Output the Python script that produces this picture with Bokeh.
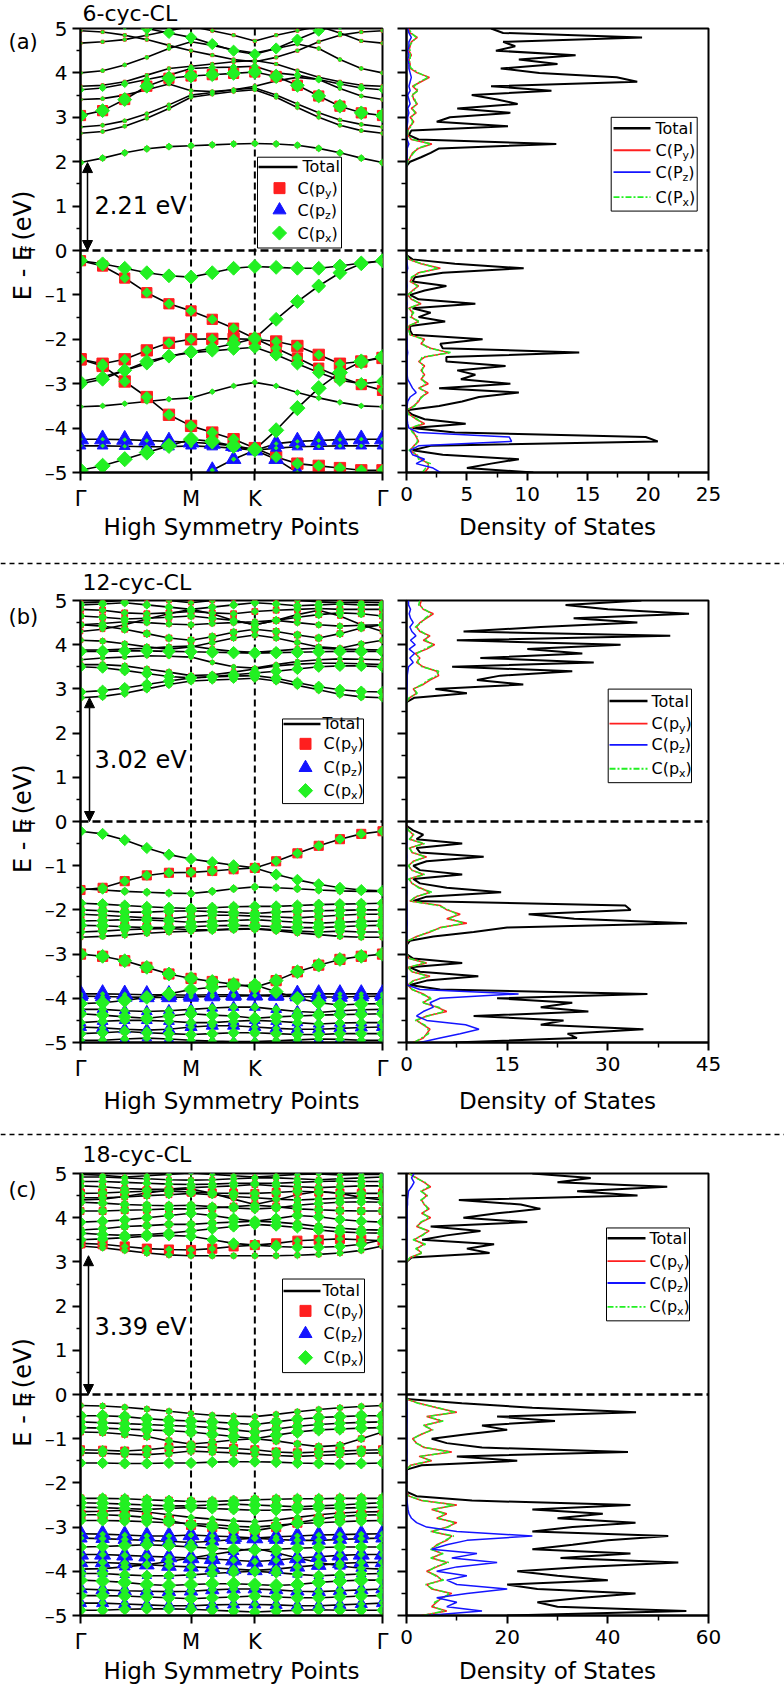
import numpy as np
from bokeh.plotting import figure
from bokeh.layouts import column, row
from bokeh.models import Range1d, FixedTicker, Span, Label, Arrow, NormalHead, Title
from bokeh.embed import file_html
from bokeh.resources import INLINE

FONT = "DejaVu Sans"
RED = "#ff1f1f"
BLUE = "#1414ff"
GREEN = "#22f022"

# ---------------- k-path Γ–M–K–Γ ----------------
K_PATH = [0.0, 0.2, 0.4, 0.6, 0.8, 1.0, 1.192, 1.385, 1.577,
          1.770, 1.962, 2.155, 2.347, 2.540, 2.732]
K_TICKS = [0.0, 1.0, 1.577, 2.732]
K_LABELS = ["Γ", "M", "K", "Γ"]
E_TICKS = [-5, -4, -3, -2, -1, 0, 1, 2, 3, 4, 5]
E_MINOR = [-4.5, -3.5, -2.5, -1.5, -0.5, 0.5, 1.5, 2.5, 3.5, 4.5]

PANEL_TAGS = ["(a)", "(b)", "(c)"]
PANEL_NAMES = ["6-cyc-CL", "12-cyc-CL", "18-cyc-CL"]
GAPS = [2.21, 3.02, 3.39]

# ---------------- (a) 6-cyc-CL band energies (eV) ----------------
BANDS_A = [
    [1.98, 2.08, 2.20, 2.29, 2.34, 2.36, 2.38, 2.40, 2.41, 2.40, 2.37, 2.30, 2.20, 2.08, 1.98],
    [2.64, 2.68, 2.80, 2.98, 3.20, 3.45, 3.52, 3.58, 3.62, 3.45, 3.22, 3.00, 2.82, 2.70, 2.64],
    [2.78, 2.82, 2.92, 3.08, 3.28, 3.50, 3.56, 3.62, 3.66, 3.50, 3.30, 3.10, 2.94, 2.84, 2.78],
    [3.04, 3.15, 3.40, 3.70, 3.88, 3.93, 3.96, 3.99, 4.02, 3.92, 3.72, 3.48, 3.25, 3.10, 3.04],
    [3.40, 3.42, 3.50, 3.62, 3.75, 3.60, 3.58, 3.62, 3.70, 3.82, 3.90, 3.85, 3.65, 3.48, 3.40],
    [3.62, 3.66, 3.75, 3.85, 3.95, 4.10, 4.12, 4.13, 4.15, 4.00, 3.95, 3.85, 3.75, 3.66, 3.62],
    [3.70, 3.72, 3.80, 3.95, 4.10, 4.15, 4.20, 4.25, 4.28, 4.20, 4.05, 3.90, 3.80, 3.72, 3.70],
    [4.00, 4.05, 4.18, 4.35, 4.55, 4.70, 4.62, 4.52, 4.45, 4.55, 4.65, 4.55, 4.30, 4.10, 4.00],
    [4.67, 4.70, 4.75, 4.85, 4.95, 5.05, 4.95, 4.85, 4.72, 4.85, 4.95, 5.05, 4.90, 4.72, 4.67],
    [5.30, 5.20, 5.10, 5.00, 4.90, 4.80, 4.65, 4.50, 4.42, 4.55, 4.75, 4.95, 5.10, 5.20, 5.30],
    [4.95, 4.92, 4.85, 4.75, 4.62, 4.50, 4.40, 4.30, 4.25, 4.35, 4.50, 4.70, 4.85, 4.92, 4.95],
    [-0.23, -0.30, -0.40, -0.50, -0.57, -0.60, -0.50, -0.40, -0.36, -0.38, -0.40, -0.40, -0.35, -0.28, -0.23],
    [-0.23, -0.35, -0.62, -0.95, -1.20, -1.36, -1.55, -1.75, -1.98, -2.20, -2.42, -2.65, -2.85, -3.02, -3.15],
    [-3.00, -2.90, -2.70, -2.50, -2.38, -2.28, -2.20, -2.10, -1.98, -1.55, -1.15, -0.80, -0.50, -0.30, -0.23],
    [-2.45, -2.55, -2.45, -2.25, -2.08, -2.00, -1.99, -1.99, -2.00, -2.05, -2.15, -2.35, -2.55, -2.50, -2.42],
    [-2.95, -2.85, -2.70, -2.55, -2.38, -2.30, -2.26, -2.22, -2.18, -2.35, -2.55, -2.75, -2.92, -3.00, -2.95],
    [-2.45, -2.60, -2.95, -3.30, -3.70, -3.95, -4.10, -4.25, -4.45, -4.65, -4.80, -4.85, -4.90, -4.95, -4.95],
    [-3.52, -3.50, -3.45, -3.40, -3.35, -3.32, -3.18, -3.05, -2.97, -3.05, -3.20, -3.32, -3.42, -3.50, -3.52],
    [-4.95, -4.85, -4.70, -4.55, -4.40, -4.25, -4.30, -4.40, -4.48, -4.05, -3.55, -3.10, -2.75, -2.50, -2.40],
    [-4.25, -4.25, -4.26, -4.28, -4.30, -4.32, -4.35, -4.40, -4.50, -4.35, -4.30, -4.28, -4.26, -4.25, -4.25],
    [-5.60, -5.60, -5.50, -5.40, -5.30, -5.20, -4.95, -4.70, -4.50, -4.70, -5.00, -5.20, -5.40, -5.50, -5.60],
    [-4.40, -4.40, -4.41, -4.42, -4.42, -4.40, -4.42, -4.45, -4.50, -4.45, -4.42, -4.41, -4.40, -4.40, -4.40],
]
W_PY_A = [0.15, 0.05, 0.05, 0.7, 0.05, 0.1, 0.05, 0.05, 0.05, 0.1, 0.05,
          0.1, 0.7, 0.2, 0.8, 0.3, 0.8, 0.05, 0.3, 0.0, 0.0, 0.0]
W_PZ_A = [0, 0, 0, 0, 0, 0, 0, 0, 0, 0, 0,
          0, 0, 0, 0, 0, 0, 0, 0, 1.0, 0.9, 0.6]
W_PX_A = [0.3, 0.1, 0.1, 0.8, 0.1, 0.3, 0.05, 0.1, 0.05, 0.6, 0.05,
          0.8, 0.5, 0.8, 0.5, 0.7, 0.6, 0.2, 0.9, 0.05, 0.1, 0.05]

# ---------------- (b) 12-cyc-CL band energies (eV) ----------------
BANDS_B = [
    [2.80, 2.83, 2.90, 3.00, 3.10, 3.18, 3.20, 3.22, 3.24, 3.18, 3.08, 2.98, 2.88, 2.82, 2.80],
    [2.93, 2.96, 3.02, 3.10, 3.18, 3.25, 3.27, 3.29, 3.30, 3.24, 3.14, 3.05, 2.98, 2.94, 2.93],
    [3.50, 3.48, 3.42, 3.35, 3.28, 3.25, 3.28, 3.32, 3.36, 3.40, 3.45, 3.50, 3.52, 3.52, 3.50],
    [3.55, 3.55, 3.52, 3.45, 3.38, 3.30, 3.32, 3.38, 3.45, 3.52, 3.56, 3.58, 3.58, 3.57, 3.55],
    [3.66, 3.70, 3.72, 3.75, 3.74, 3.72, 3.60, 3.50, 3.47, 3.55, 3.62, 3.66, 3.68, 3.67, 3.66],
    [3.85, 3.85, 3.86, 3.86, 3.85, 3.84, 3.83, 3.82, 3.81, 3.82, 3.83, 3.84, 3.85, 3.85, 3.85],
    [3.88, 3.88, 3.90, 3.92, 3.95, 3.97, 3.90, 3.85, 3.83, 3.86, 3.90, 3.92, 3.90, 3.89, 3.88],
    [4.10, 4.08, 4.02, 3.95, 3.90, 3.95, 4.05, 4.15, 4.22, 4.15, 4.05, 3.95, 3.92, 4.02, 4.10],
    [4.45, 4.42, 4.35, 4.25, 4.15, 4.10, 4.18, 4.28, 4.35, 4.30, 4.22, 4.15, 4.25, 4.38, 4.45],
    [4.45, 4.48, 4.52, 4.50, 4.47, 4.45, 4.48, 4.50, 4.52, 4.55, 4.50, 4.45, 4.42, 4.44, 4.45],
    [4.65, 4.62, 4.58, 4.60, 4.62, 4.65, 4.60, 4.55, 4.45, 4.55, 4.62, 4.68, 4.72, 4.70, 4.65],
    [4.80, 4.78, 4.72, 4.70, 4.72, 4.75, 4.72, 4.70, 4.75, 4.78, 4.80, 4.82, 4.80, 4.80, 4.80],
    [4.90, 4.92, 4.95, 4.90, 4.85, 4.80, 4.85, 4.90, 4.95, 4.92, 4.88, 4.90, 4.92, 4.90, 4.90],
    [4.95, 4.97, 5.00, 5.05, 5.00, 4.95, 5.00, 5.05, 5.10, 5.05, 5.00, 4.97, 4.95, 4.96, 4.95],
    [4.30, 4.35, 4.45, 4.58, 4.70, 4.80, 4.70, 4.55, 4.45, 4.55, 4.68, 4.78, 4.65, 4.45, 4.30],
    [-0.22, -0.28, -0.42, -0.60, -0.75, -0.85, -0.92, -0.99, -1.05, -1.20, -1.32, -1.42, -1.50, -1.55, -1.57],
    [-1.55, -1.50, -1.35, -1.22, -1.16, -1.15, -1.12, -1.08, -1.05, -0.90, -0.72, -0.55, -0.40, -0.28, -0.22],
    [-1.52, -1.55, -1.58, -1.60, -1.62, -1.63, -1.58, -1.52, -1.48, -1.50, -1.52, -1.55, -1.57, -1.58, -1.58],
    [-1.85, -1.87, -1.90, -1.93, -1.95, -1.97, -1.95, -1.93, -1.92, -1.92, -1.90, -1.88, -1.87, -1.86, -1.85],
    [-2.00, -2.02, -2.05, -2.05, -2.03, -2.02, -2.04, -2.06, -2.08, -2.05, -2.03, -2.02, -2.01, -2.00, -2.00],
    [-2.10, -2.12, -2.15, -2.18, -2.20, -2.15, -2.12, -2.12, -2.14, -2.16, -2.18, -2.15, -2.12, -2.10, -2.10],
    [-2.25, -2.24, -2.22, -2.23, -2.25, -2.28, -2.26, -2.24, -2.22, -2.25, -2.28, -2.30, -2.28, -2.26, -2.25],
    [-2.35, -2.36, -2.38, -2.40, -2.40, -2.38, -2.36, -2.35, -2.36, -2.38, -2.40, -2.40, -2.38, -2.36, -2.35],
    [-2.50, -2.48, -2.45, -2.43, -2.42, -2.45, -2.45, -2.43, -2.42, -2.45, -2.48, -2.50, -2.48, -2.50, -2.50],
    [-2.62, -2.60, -2.57, -2.53, -2.50, -2.48, -2.46, -2.44, -2.43, -2.47, -2.52, -2.56, -2.60, -2.62, -2.62],
    [-3.00, -3.05, -3.15, -3.30, -3.45, -3.55, -3.62, -3.68, -3.75, -3.60, -3.40, -3.25, -3.12, -3.05, -3.00],
    [-3.90, -3.90, -3.91, -3.92, -3.92, -3.93, -3.92, -3.92, -3.93, -3.92, -3.91, -3.90, -3.90, -3.90, -3.90],
    [-3.95, -3.96, -3.97, -3.98, -3.98, -3.97, -3.96, -3.95, -3.94, -3.95, -3.96, -3.97, -3.97, -3.96, -3.95],
    [-4.12, -4.10, -4.05, -3.98, -3.90, -3.80, -3.75, -3.72, -3.70, -3.85, -4.00, -4.10, -4.15, -4.13, -4.12],
    [-4.25, -4.25, -4.28, -4.30, -4.28, -4.25, -4.22, -4.20, -4.20, -4.25, -4.30, -4.32, -4.28, -4.26, -4.25],
    [-4.35, -4.38, -4.42, -4.45, -4.40, -4.35, -4.38, -4.40, -4.45, -4.42, -4.40, -4.38, -4.37, -4.36, -4.35],
    [-4.55, -4.52, -4.50, -4.50, -4.52, -4.55, -4.55, -4.52, -4.50, -4.52, -4.55, -4.58, -4.56, -4.55, -4.55],
    [-4.65, -4.67, -4.70, -4.72, -4.70, -4.65, -4.62, -4.62, -4.65, -4.68, -4.70, -4.70, -4.68, -4.66, -4.65],
    [-4.80, -4.78, -4.75, -4.78, -4.80, -4.82, -4.80, -4.78, -4.78, -4.80, -4.82, -4.82, -4.80, -4.80, -4.80],
    [-4.95, -4.95, -4.92, -4.90, -4.92, -4.95, -4.97, -4.98, -4.98, -4.96, -4.94, -4.92, -4.93, -4.95, -4.95],
]
W_PY_B = [0.2, 0.3, 0.3, 0.2, 0.1, 0.3, 0.2, 0.2, 0.3, 0.2, 0.3, 0.3, 0.2, 0.2, 0.2,
          0.2, 0.6, 0.2, 0.3, 0.4, 0.4, 0.4, 0.5, 0.3, 0.2,
          0.7, 0.0, 0.0, 0.3, 0.1, 0.3, 0.1, 0.1, 0.3, 0.2]
W_PZ_B = [0, 0, 0, 0, 0, 0, 0, 0, 0, 0, 0, 0, 0, 0, 0,
          0, 0, 0, 0, 0, 0, 0, 0, 0, 0,
          0, 1.0, 0.9, 0.1, 0.6, 0.2, 0.6, 0.7, 0.3, 0.5]
W_PX_B = [0.4, 0.6, 0.6, 0.3, 0.2, 0.7, 0.3, 0.3, 0.4, 0.3, 0.4, 0.3, 0.4, 0.2, 0.2,
          0.6, 0.5, 0.4, 0.6, 0.6, 0.5, 0.6, 0.7, 0.5, 0.3,
          0.8, 0.1, 0.1, 0.8, 0.4, 0.7, 0.5, 0.3, 0.6, 0.4]

# ---------------- (c) 18-cyc-CL band energies (eV) ----------------
BANDS_C = [
    [3.36, 3.32, 3.26, 3.20, 3.16, 3.14, 3.14, 3.14, 3.14, 3.14, 3.15, 3.17, 3.20, 3.26, 3.36],
    [3.42, 3.40, 3.35, 3.30, 3.28, 3.27, 3.30, 3.35, 3.38, 3.42, 3.48, 3.50, 3.52, 3.50, 3.48],
    [3.50, 3.52, 3.55, 3.58, 3.60, 3.58, 3.50, 3.42, 3.38, 3.35, 3.33, 3.33, 3.35, 3.40, 3.50],
    [3.65, 3.62, 3.60, 3.62, 3.65, 3.70, 3.75, 3.80, 3.85, 3.82, 3.78, 3.72, 3.68, 3.66, 3.65],
    [3.72, 3.75, 3.80, 3.82, 3.85, 3.85, 3.88, 3.90, 3.92, 3.90, 3.86, 3.80, 3.76, 3.73, 3.72],
    [3.90, 3.92, 3.95, 4.00, 4.05, 4.10, 4.05, 3.98, 3.92, 3.98, 4.05, 4.02, 3.96, 3.92, 3.90],
    [4.15, 4.15, 4.17, 4.18, 4.20, 4.20, 4.22, 4.25, 4.28, 4.25, 4.20, 4.18, 4.16, 4.15, 4.15],
    [4.35, 4.33, 4.30, 4.28, 4.27, 4.28, 4.25, 4.22, 4.20, 4.22, 4.28, 4.32, 4.35, 4.36, 4.35],
    [4.45, 4.45, 4.47, 4.50, 4.52, 4.55, 4.52, 4.48, 4.45, 4.42, 4.40, 4.42, 4.44, 4.45, 4.45],
    [4.55, 4.56, 4.58, 4.60, 4.60, 4.58, 4.56, 4.55, 4.55, 4.57, 4.60, 4.58, 4.56, 4.55, 4.55],
    [4.72, 4.70, 4.66, 4.64, 4.65, 4.68, 4.70, 4.72, 4.75, 4.72, 4.70, 4.68, 4.70, 4.72, 4.72],
    [4.82, 4.82, 4.80, 4.78, 4.76, 4.75, 4.76, 4.78, 4.78, 4.78, 4.80, 4.82, 4.83, 4.82, 4.82],
    [4.92, 4.92, 4.90, 4.88, 4.86, 4.85, 4.86, 4.88, 4.90, 4.90, 4.88, 4.86, 4.88, 4.90, 4.92],
    [4.40, 4.42, 4.48, 4.56, 4.62, 4.65, 4.55, 4.42, 4.30, 4.40, 4.52, 4.60, 4.55, 4.46, 4.40],
    [4.98, 4.96, 4.92, 4.95, 4.98, 5.02, 4.98, 4.95, 4.92, 4.95, 4.98, 4.99, 4.97, 4.98, 4.98],
    [-0.25, -0.26, -0.29, -0.33, -0.38, -0.43, -0.47, -0.49, -0.50, -0.45, -0.39, -0.34, -0.30, -0.27, -0.25],
    [-0.48, -0.48, -0.50, -0.55, -0.58, -0.60, -0.62, -0.65, -0.68, -0.62, -0.56, -0.52, -0.50, -0.48, -0.48],
    [-0.62, -0.64, -0.66, -0.68, -0.70, -0.72, -0.75, -0.80, -0.85, -0.78, -0.72, -0.68, -0.65, -0.63, -0.62],
    [-0.75, -0.76, -0.78, -0.80, -0.82, -0.85, -0.90, -0.95, -1.00, -0.92, -0.85, -0.80, -0.78, -0.76, -0.75],
    [-0.85, -0.86, -0.90, -0.95, -1.05, -1.12, -1.08, -1.03, -1.00, -1.05, -1.12, -1.18, -1.15, -1.00, -0.85],
    [-1.25, -1.26, -1.28, -1.25, -1.20, -1.18, -1.20, -1.22, -1.25, -1.30, -1.32, -1.30, -1.28, -1.26, -1.25],
    [-1.32, -1.33, -1.35, -1.36, -1.33, -1.28, -1.30, -1.32, -1.35, -1.38, -1.40, -1.38, -1.36, -1.33, -1.32],
    [-1.55, -1.55, -1.56, -1.56, -1.55, -1.55, -1.53, -1.52, -1.52, -1.53, -1.55, -1.56, -1.57, -1.56, -1.55],
    [-2.35, -2.35, -2.36, -2.38, -2.40, -2.42, -2.42, -2.40, -2.38, -2.37, -2.36, -2.36, -2.35, -2.35, -2.35],
    [-2.45, -2.46, -2.48, -2.50, -2.52, -2.52, -2.50, -2.48, -2.50, -2.52, -2.54, -2.52, -2.50, -2.47, -2.45],
    [-2.55, -2.56, -2.58, -2.60, -2.58, -2.56, -2.58, -2.60, -2.62, -2.62, -2.60, -2.58, -2.57, -2.56, -2.55],
    [-2.72, -2.72, -2.74, -2.78, -2.85, -2.95, -3.00, -3.05, -3.08, -3.00, -2.90, -2.82, -2.76, -2.73, -2.72],
    [-2.85, -2.85, -2.86, -2.88, -2.90, -2.92, -2.94, -2.98, -3.00, -2.96, -2.92, -2.90, -2.88, -2.86, -2.85],
    [-3.15, -3.16, -3.18, -3.20, -3.20, -3.18, -3.20, -3.22, -3.25, -3.22, -3.20, -3.18, -3.17, -3.16, -3.15],
    [-3.25, -3.26, -3.28, -3.30, -3.32, -3.35, -3.32, -3.28, -3.25, -3.28, -3.30, -3.30, -3.28, -3.26, -3.25],
    [-3.45, -3.44, -3.42, -3.40, -3.42, -3.45, -3.48, -3.50, -3.52, -3.50, -3.48, -3.46, -3.45, -3.45, -3.45],
    [-3.62, -3.62, -3.64, -3.66, -3.68, -3.70, -3.72, -3.75, -3.78, -3.75, -3.70, -3.67, -3.64, -3.62, -3.62],
    [-3.80, -3.80, -3.82, -3.85, -3.88, -3.90, -3.92, -3.95, -3.98, -3.95, -3.90, -3.86, -3.82, -3.80, -3.80],
    [-4.05, -4.05, -4.08, -4.10, -4.10, -4.08, -4.05, -4.02, -4.00, -4.03, -4.07, -4.10, -4.08, -4.06, -4.05],
    [-4.20, -4.22, -4.25, -4.30, -4.32, -4.30, -4.28, -4.28, -4.30, -4.32, -4.30, -4.25, -4.22, -4.20, -4.20],
    [-4.40, -4.42, -4.44, -4.45, -4.46, -4.45, -4.42, -4.40, -4.40, -4.42, -4.45, -4.46, -4.44, -4.42, -4.40],
    [-4.55, -4.55, -4.56, -4.58, -4.60, -4.62, -4.60, -4.58, -4.56, -4.58, -4.60, -4.60, -4.58, -4.56, -4.55],
    [-4.72, -4.72, -4.74, -4.76, -4.78, -4.78, -4.76, -4.75, -4.75, -4.76, -4.78, -4.78, -4.76, -4.74, -4.72],
    [-4.88, -4.88, -4.86, -4.85, -4.85, -4.86, -4.88, -4.90, -4.92, -4.90, -4.88, -4.87, -4.88, -4.88, -4.88],
    [-2.65, -2.64, -2.62, -2.66, -2.72, -2.78, -2.82, -2.86, -2.88, -2.84, -2.78, -2.72, -2.68, -2.66, -2.65],
    [-3.95, -3.94, -3.90, -3.85, -3.78, -3.70, -3.62, -3.55, -3.48, -3.58, -3.70, -3.80, -3.88, -3.93, -3.95],
]
W_PY_C = [0.2, 0.6, 0.2, 0.3, 0.3, 0.3, 0.4, 0.3, 0.3, 0.5, 0.3, 0.2, 0.2, 0.1, 0.1,
          0.2, 0.4, 0.4, 0.4, 0.3, 0.5, 0.3, 0.3, 0.4, 0.4, 0.3, 0.6, 0.3,
          0.1, 0.1, 0.3, 0.1, 0.1, 0.3, 0.3, 0.1, 0.3, 0.1, 0.3, 0.1, 0.2]
W_PZ_C = [0, 0, 0, 0, 0, 0, 0, 0, 0, 0, 0, 0.05, 0.1, 0, 0.05,
          0, 0, 0, 0, 0, 0, 0, 0, 0, 0, 0, 0, 0.1,
          1.0, 0.8, 0.2, 1.0, 0.9, 0.5, 0.3, 0.8, 0.3, 0.7, 0.3, 0.0, 0.6]
W_PX_C = [0.3, 0.3, 0.6, 0.6, 0.5, 0.6, 0.5, 0.5, 0.4, 0.5, 0.4, 0.4, 0.3, 0.1, 0.2,
          0.3, 0.7, 0.6, 0.7, 0.4, 0.5, 0.4, 0.6, 0.6, 0.7, 0.6, 0.7, 0.6,
          0.2, 0.3, 0.7, 0.3, 0.4, 0.6, 0.8, 0.4, 0.7, 0.3, 0.6, 0.3, 0.4]

# ---------------- density of states (states/eV) ----------------
E_VB = np.round(np.arange(-5.0, -0.05, 0.1), 2)          # -5.0 … -0.1
E_CB_A = np.round(np.arange(1.9, 5.05, 0.1), 2)          # 1.9 … 5.0
E_CB_B = np.round(np.arange(2.7, 5.05, 0.1), 2)          # 2.7 … 5.0
E_CB_C = np.round(np.arange(3.0, 5.05, 0.1), 2)          # 3.0 … 5.0

TOT_VB_A = [10.5, 5.0, 7.0, 9.3, 3.0, 0.5, 2.0, 20.8, 19.8, 4.0,
            0.5, 4.9, 1.5, 0.5, 0.0, 2.7, 4.6, 6.0, 9.3, 2.7,
            8.6, 4.5, 5.7, 4.2, 8.2, 3.3, 3.3, 14.3, 3.0, 2.8,
            6.3, 0.5, 0.3, 0.3, 3.2, 1.0, 2.0, 0.5, 5.7, 1.0,
            0.3, 1.5, 3.3, 0.5, 0.7, 3.0, 9.7, 4.0, 0.5, 0.0]
PY_VB_A = [1.5, 1.8, 1.8, 1.2, 0.8, 0.3, 0.6, 1.0, 0.8, 0.6,
           0.3, 1.5, 0.8, 0.3, 0.0, 0.6, 1.0, 1.2, 1.8, 1.0,
           1.8, 1.2, 1.5, 1.2, 1.5, 1.0, 1.5, 3.5, 2.0, 1.2,
           1.5, 0.3, 0.2, 0.2, 1.0, 0.4, 0.5, 0.2, 1.2, 0.4,
           0.1, 0.5, 1.0, 0.3, 0.5, 1.0, 2.8, 1.2, 0.2, 0.0]
PX_VB_A = [1.3, 1.6, 2.0, 1.0, 0.9, 0.2, 0.7, 0.9, 0.9, 0.5,
           0.3, 1.3, 0.9, 0.2, 0.0, 0.7, 0.9, 1.3, 1.6, 1.1,
           1.6, 1.3, 1.4, 1.3, 1.4, 1.1, 1.3, 3.7, 1.8, 1.3,
           1.4, 0.3, 0.2, 0.1, 1.1, 0.3, 0.6, 0.2, 1.1, 0.5,
           0.1, 0.6, 0.9, 0.4, 0.4, 1.1, 2.6, 1.3, 0.2, 0.0]
PZ_VB_A = [2.8, 2.2, 0.8, 1.5, 0.5, 0.3, 1.0, 8.7, 8.5, 1.0,
           0.2, 0.1, 0.05, 0.05, 0.0, 0.05, 0.1, 0.3, 0.8, 0.5,
           0.3, 0.1, 0.05, 0.05, 0.05, 0.05, 0.05, 0.1, 0.05, 0.05,
           0.05, 0.0, 0.0, 0.0, 0.05, 0.0, 0.0, 0.0, 0.05, 0.0,
           0.0, 0.0, 0.05, 0.0, 0.0, 0.0, 0.1, 0.05, 0.0, 0.0]
TOT_CB_A = [0.0, 0.3, 1.2, 2.0, 2.7, 12.4, 1.0, 0.2, 0.4, 8.4,
            2.5, 3.6, 8.6, 4.2, 9.2, 7.5, 5.4, 12.0, 7.0, 19.1,
            17.4, 11.0, 7.8, 12.5, 9.3, 14.0, 7.4, 9.0, 8.0, 19.5,
            8.0, 7.0]
PY_CB_A = [0.0, 0.1, 0.3, 0.5, 1.0, 2.1, 0.4, 0.1, 0.1, 0.3,
           0.6, 0.3, 0.8, 0.4, 0.9, 0.6, 0.5, 0.9, 0.5, 1.2,
           1.9, 0.9, 0.3, 0.3, 0.2, 0.4, 0.2, 0.3, 0.4, 0.9,
           0.3, 0.2]
PX_CB_A = [0.0, 0.1, 0.3, 0.6, 0.9, 2.0, 0.5, 0.1, 0.1, 0.4,
           0.5, 0.4, 0.7, 0.5, 0.8, 0.7, 0.4, 1.0, 0.6, 1.1,
           1.8, 1.0, 0.4, 0.2, 0.3, 0.3, 0.3, 0.2, 0.5, 0.8,
           0.4, 0.2]
PZ_CB_A = [0.0, 0.0, 0.05, 0.05, 0.05, 0.2, 0.05, 0.0, 0.0, 0.05,
           0.1, 0.1, 0.2, 0.1, 0.3, 0.2, 0.1, 0.3, 0.2, 0.3,
           0.4, 0.3, 0.2, 0.2, 0.1, 0.2, 0.1, 0.2, 0.2, 0.4,
           0.2, 0.1]

TOT_VB_B = [7.0, 25.4, 24.0, 35.3, 20.0, 23.4, 10.0, 27.1, 20.0, 24.7,
            13.5, 35.9, 5.0, 0.5, 3.0, 10.7, 2.0, 0.5, 8.3, 1.0,
            0.0, 0.0, 0.0, 0.5, 4.0, 10.0, 15.0, 41.8, 25.0, 18.2,
            33.4, 32.6, 1.0, 3.0, 14.1, 6.0, 2.0, 1.0, 8.3, 2.0,
            1.0, 3.0, 11.5, 2.0, 1.5, 8.3, 1.5, 2.5, 1.0, 0.0]
PY_VB_B = [1.0, 2.5, 3.0, 3.5, 2.5, 1.5, 3.0, 6.0, 4.5, 2.5,
           3.5, 2.5, 0.8, 0.2, 1.0, 3.5, 0.8, 0.2, 3.0, 0.4,
           0.0, 0.0, 0.0, 0.2, 1.5, 3.5, 5.0, 9.0, 6.0, 8.0,
           6.0, 5.0, 0.5, 1.5, 3.5, 2.0, 0.8, 0.4, 2.5, 0.8,
           0.3, 1.0, 3.0, 0.8, 0.5, 2.5, 0.5, 1.0, 0.3, 0.0]
PX_VB_B = [1.2, 2.2, 3.3, 3.2, 2.7, 1.3, 3.2, 5.6, 4.8, 2.3,
           3.8, 2.2, 0.9, 0.2, 1.1, 3.2, 0.9, 0.2, 2.8, 0.5,
           0.0, 0.0, 0.0, 0.2, 1.7, 3.2, 5.3, 8.5, 6.4, 7.6,
           6.3, 4.7, 0.6, 1.3, 3.8, 1.8, 0.9, 0.3, 2.7, 0.7,
           0.3, 1.1, 2.8, 0.9, 0.4, 2.7, 0.4, 1.1, 0.3, 0.0]
PZ_VB_B = [2.0, 5.0, 8.0, 10.8, 8.8, 3.0, 1.5, 2.5, 4.0, 3.5,
           5.0, 16.7, 2.0, 0.1, 0.05, 0.05, 0.0, 0.0, 0.05, 0.0,
           0.0, 0.0, 0.0, 0.0, 0.05, 0.05, 0.05, 0.1, 0.05, 0.05,
           0.05, 0.05, 0.0, 0.0, 0.05, 0.0, 0.0, 0.0, 0.05, 0.0,
           0.0, 0.0, 0.05, 0.0, 0.0, 0.05, 0.0, 0.0, 0.0, 0.0]
TOT_CB_B = [0.0, 1.2, 9.0, 4.3, 17.4, 10.5, 14.0, 24.7, 6.8, 27.9,
            11.0, 26.2, 18.0, 31.9, 7.5, 39.3, 8.5, 20.0, 34.4, 24.9,
            42.1, 30.0, 23.7, 35.0]
PY_CB_B = [0.0, 0.5, 1.5, 1.0, 2.5, 3.5, 4.8, 4.5, 2.5, 1.5,
           2.0, 1.3, 3.0, 4.2, 2.5, 3.5, 2.0, 1.5, 2.0, 3.0,
           4.0, 2.5, 2.0, 2.2]
PX_CB_B = [0.0, 0.4, 1.6, 1.1, 2.3, 3.2, 4.5, 4.8, 2.3, 1.7,
           1.8, 1.5, 2.7, 4.0, 2.8, 3.2, 2.2, 1.3, 2.2, 2.8,
           3.7, 2.7, 1.8, 2.0]
PZ_CB_B = [0.0, 0.0, 0.05, 0.05, 0.1, 0.1, 0.1, 0.2, 0.3, 1.0,
           0.5, 1.2, 0.4, 1.3, 0.6, 1.4, 0.8, 0.5, 1.0, 0.6,
           0.4, 0.6, 0.3, 0.3]

TOT_VB_C = [20.0, 55.6, 30.0, 26.0, 35.0, 45.5, 26.0, 20.0, 40.0, 30.0,
            22.0, 35.0, 54.0, 30.6, 44.5, 25.0, 33.0, 40.0, 52.0, 25.0,
            33.0, 45.5, 30.0, 39.0, 25.0, 44.5, 13.0, 2.0, 0.0, 0.0,
            0.0, 0.0, 0.0, 0.0, 3.0, 22.0, 10.0, 44.0, 15.0, 8.0,
            5.0, 12.0, 20.0, 15.0, 29.5, 18.0, 45.6, 25.0, 11.0, 0.0]
PY_VB_C = [3.0, 8.0, 5.0, 6.0, 7.0, 9.0, 5.0, 4.0, 7.0, 6.0,
           4.0, 6.0, 8.0, 5.0, 7.0, 5.0, 6.0, 8.0, 9.0, 5.0,
           8.0, 10.0, 6.0, 8.0, 5.0, 10.0, 3.0, 0.5, 0.0, 0.0,
           0.0, 0.0, 0.0, 0.0, 0.8, 5.0, 2.5, 9.0, 3.5, 2.0,
           1.2, 3.0, 5.0, 3.5, 7.0, 4.0, 10.0, 6.0, 2.5, 0.0]
PX_VB_C = [3.3, 7.5, 5.4, 5.6, 7.3, 8.6, 5.3, 3.8, 7.4, 5.7,
           4.3, 5.7, 8.4, 4.8, 7.3, 4.7, 6.3, 7.6, 9.4, 4.8,
           8.3, 9.6, 6.3, 7.6, 5.3, 9.5, 3.2, 0.5, 0.0, 0.0,
           0.0, 0.0, 0.0, 0.0, 0.9, 4.7, 2.7, 8.6, 3.7, 1.9,
           1.3, 2.8, 5.3, 3.3, 7.3, 4.2, 9.6, 6.3, 2.3, 0.0]
PZ_VB_C = [4.0, 15.0, 8.0, 10.0, 6.0, 12.0, 20.0, 10.0, 8.0, 12.0,
           6.0, 10.0, 18.0, 9.0, 14.0, 5.0, 8.0, 12.0, 25.0, 10.0,
           4.0, 2.0, 1.0, 0.5, 0.3, 0.2, 0.1, 0.0, 0.0, 0.0,
           0.0, 0.0, 0.0, 0.0, 0.0, 0.1, 0.05, 0.1, 0.05, 0.05,
           0.05, 0.05, 0.05, 0.05, 0.1, 0.05, 0.1, 0.05, 0.05, 0.0]
TOT_CB_C = [0.0, 1.0, 16.5, 12.0, 17.4, 3.1, 8.0, 14.7, 4.8, 24.0,
            11.3, 18.0, 26.6, 22.7, 10.4, 45.9, 33.9, 51.8, 30.0, 36.6, 25.0]
PY_CB_C = [0.0, 0.8, 3.0, 2.0, 3.5, 1.5, 3.0, 4.5, 2.0, 3.0,
           4.8, 3.0, 4.5, 3.5, 3.0, 4.0, 3.0, 4.8, 3.5, 2.0, 0.5]
PX_CB_C = [0.0, 0.7, 3.2, 1.8, 3.8, 1.3, 3.2, 4.2, 2.2, 2.8,
           4.5, 3.2, 4.2, 3.7, 2.8, 4.2, 2.8, 4.5, 3.7, 1.8, 0.6]
PZ_CB_C = [0.0, 0.0, 0.05, 0.05, 0.05, 0.05, 0.05, 0.1, 0.05, 0.1,
           0.1, 0.1, 0.1, 0.2, 0.2, 0.3, 0.4, 1.0, 1.5, 1.0, 1.5]

DOS_MAX = [25, 45, 60]
DOS_TICKS = [[0, 5, 10, 15, 20, 25], [0, 15, 30, 45], [0, 20, 40, 60]]
DOS_MINOR = [[2.5, 7.5, 12.5, 17.5, 22.5], [7.5, 22.5, 37.5], [10, 30, 50]]

# ---------------- page layout (px, page coordinates) ----------------
PAGE_W = 784
BAND_L, BAND_R = 80, 382
DOS_L, DOS_R = 406, 708
YLAB_W = 41                      # strip left of the band plot (energy label, panel tag)
BAND_W = 394 - YLAB_W
DOS_W = 390
BOTTOM_PAD = 40                  # figure border below each frame (ticks + tick labels)

ROWS = [
    dict(main=(0, 513), border_top=28, title_standoff=1, foot=(513, 565), sep=563,
         tag_y=16, gap_y=206, arrow_x=87, xlab_y=526.5,
         leg=(257, 157, 341, 248), leg_rows=(166.7, 188, 210, 233),
         leg_line=(258, 297), leg_mark=279, leg_txt=(302, 297),
         dleg=(610.7, 117, 696.7, 211), dleg_rows=(128, 150, 172, 197),
         dleg_line=(613, 650), dleg_txt=655, dleg_p="P"),
    dict(main=(565, 1083), border_top=34, title_standoff=8, foot=(1083, 1136), sep=1134,
         tag_y=584, gap_y=759, arrow_x=89, xlab_y=1100,
         leg=(282, 718, 363, 803), leg_rows=(723, 743, 767, 790),
         leg_line=(283, 320), leg_mark=305, leg_txt=(322, 323),
         dleg=(607.7, 688, 691, 782), dleg_rows=(700, 722.7, 744, 768),
         dleg_line=(609, 647), dleg_txt=651, dleg_p="p"),
    dict(main=(1136, 1656), border_top=36, title_standoff=10, foot=(1656, 1689), sep=None,
         tag_y=1155, gap_y=1326, arrow_x=88, xlab_y=1670,
         leg=(282, 1278, 364, 1372), leg_rows=(1290, 1310, 1333, 1357),
         leg_line=(283, 320), leg_mark=305, leg_txt=(322, 323),
         dleg=(606, 1226.7, 689, 1320), dleg_rows=(1237, 1260, 1282, 1306),
         dleg_line=(607, 645), dleg_txt=649, dleg_p="p"),
]

CHAR_EM = {"C": 0.698, "(": 0.390, ")": 0.390, "p": 0.635, "P": 0.603, "y": 0.592,
           "z": 0.525, "x": 0.592, "E": 0.632, "f": 0.352, " ": 0.318, "-": 0.361,
           "e": 0.615, "V": 0.684}


def text_width(s, size):
    return sum(CHAR_EM.get(c, 0.6) for c in s) * size


def mapper(left, right, top, bottom, x0, x1, y0, y1):
    def gx(px):
        return x0 + (px - left) / (right - left) * (x1 - x0)

    def gy(py):
        return y1 - (py - top) / (bottom - top) * (y1 - y0)
    return gx, gy


def put(p, x, y, text, size, align="left", baseline="middle", angle=0.0):
    p.add_layout(Label(x=x, y=y, text=text, text_font=FONT, text_font_size=f"{size:.1f}px",
                       text_align=align, text_baseline=baseline, angle=angle,
                       text_color="black"))


def put_sub(p, gx, gy, px, py, head, sub, tail, size):
    put(p, gx(px), gy(py), head, size)
    w = text_width(head, size)
    ss = size * 0.68
    put(p, gx(px + w), gy(py + size * 0.32), sub, ss)
    w += text_width(sub, ss)
    put(p, gx(px + w), gy(py), tail, size)


def strip(width, y_top, y_bot):
    """Plain drawing area whose data units are page pixels (y grows downward)."""
    s = figure(width=width, height=y_bot - y_top, x_range=Range1d(0, width),
               y_range=Range1d(y_bot, y_top), x_axis_type=None, y_axis_type=None,
               toolbar_location=None, output_backend="svg", min_border=0, title=None)
    s.outline_line_color = None
    s.background_fill_color = "white"
    s.border_fill_color = "white"
    return s


def style_axis(ax, tick_out, minor_out, label_size, standoff):
    ax.axis_line_width = 2
    ax.axis_line_color = "black"
    ax.major_tick_line_width = 2
    ax.minor_tick_line_width = 1.5
    ax.major_tick_out = tick_out
    ax.major_tick_in = 0
    ax.minor_tick_out = minor_out
    ax.minor_tick_in = 0
    ax.major_label_text_font = FONT
    ax.major_label_text_font_size = f"{label_size}px"
    ax.major_label_text_color = "black"
    ax.major_label_standoff = standoff


def frame_box(spec):
    return spec["main"][0] + spec["border_top"], spec["main"][1] - BOTTOM_PAD


def base_figure(width, spec, left, right, x_range):
    top, bot = spec["main"]
    p = figure(width=width, height=bot - top, x_range=x_range, y_range=Range1d(-5, 5),
               output_backend="svg", toolbar_location=None, title=None,
               min_border_left=left, min_border_right=right,
               min_border_top=spec["border_top"], min_border_bottom=BOTTOM_PAD)
    p.xgrid.visible = False
    p.ygrid.visible = False
    p.outline_line_color = "black"
    p.outline_line_width = 2
    p.background_fill_color = "white"
    p.border_fill_color = "white"
    return p


def band_panel(i, bands, w_py, w_pz, w_px):
    spec = ROWS[i]
    assert all(len(b) == len(K_PATH) for b in bands)
    assert len(w_py) == len(w_pz) == len(w_px) == len(bands)
    f_top, f_bot = frame_box(spec)
    p = base_figure(BAND_W, spec, BAND_L - YLAB_W, YLAB_W + BAND_W - BAND_R,
                    Range1d(K_TICKS[0], K_TICKS[-1]))
    gx, gy = mapper(BAND_L, BAND_R, f_top, f_bot, K_TICKS[0], K_TICKS[-1], -5, 5)

    # system name above the band plot
    p.add_layout(Title(text=PANEL_NAMES[i], align="left", offset=2,
                       standoff=spec["title_standoff"], vertical_align="top",
                       text_font=FONT, text_font_size="22px",
                       text_font_style="normal", text_color="black"), "above")

    xa = p.xaxis[0]
    xa.ticker = FixedTicker(ticks=K_TICKS, minor_ticks=[])
    xa.major_label_overrides = {k: lab for k, lab in zip(K_TICKS, K_LABELS)}
    style_axis(xa, 8, 0, 21, 6)
    ya = p.yaxis[0]
    ya.ticker = FixedTicker(ticks=E_TICKS, minor_ticks=E_MINOR)
    ya.major_label_overrides = {t: str(t).replace("-", "–") for t in E_TICKS}
    style_axis(ya, 8, 4, 20, 5)

    for k in K_TICKS[1:3]:
        p.add_layout(Span(location=k, dimension="height", line_color="black",
                          line_width=2, line_dash="7 4", level="underlay"))
    p.add_layout(Span(location=0, dimension="width", line_color="black",
                      line_width=2.5, line_dash="8 4", level="underlay"))

    # band lines
    p.multi_line(xs=[K_PATH] * len(bands), ys=bands, line_color="black", line_width=1.6)

    # orbital-projected markers
    n = len(K_PATH)
    kx = np.tile(K_PATH, len(bands))
    ey = np.concatenate([np.asarray(b, float) for b in bands])

    def sizes(w, base, scale):
        w = np.repeat(np.asarray(w, float), n)
        return np.where(w > 0, base + scale * w, 0.0)

    s_py = sizes(w_py, 2.5, 11.0)
    s_pz = sizes(w_pz, 3.0, 13.0)
    s_px = sizes(w_px, 2.2, 9.5)
    m = s_py > 0
    p.scatter(kx[m], ey[m], size=s_py[m], marker="square", fill_color=RED, line_color=RED)
    m = s_pz > 0
    p.scatter(kx[m], ey[m], size=s_pz[m], marker="triangle", fill_color=BLUE, line_color=BLUE)
    m = s_px > 0
    p.scatter(kx[m], ey[m], size=s_px[m], marker="square", angle=np.pi / 4,
              fill_color=GREEN, line_color=GREEN)

    # band-gap arrow and value
    vbm = max(max(b) for b in bands if max(b) < 0)
    cbm = vbm + GAPS[i]
    ax_x = gx(spec["arrow_x"])
    p.add_layout(Arrow(start=NormalHead(size=10, fill_color="black", line_color="black"),
                       end=NormalHead(size=10, fill_color="black", line_color="black"),
                       x_start=ax_x, y_start=0, x_end=ax_x, y_end=cbm,
                       line_color="black", line_width=1.5))
    put(p, gx(94), gy(spec["gap_y"]), f"{GAPS[i]:.2f} eV", 24)

    # legend
    l, t, r, b = spec["leg"]
    rows_y = spec["leg_rows"]
    p.quad(left=gx(l), right=gx(r), top=gy(t), bottom=gy(b),
           fill_color="white", line_color="black", line_width=1)
    lx0, lx1 = spec["leg_line"]
    p.line([gx(lx0), gx(lx1)], [gy(rows_y[0])] * 2, line_color="black", line_width=2.5)
    mx = gx(spec["leg_mark"])
    p.scatter([mx], [gy(rows_y[1])], size=11, marker="square", fill_color=RED, line_color=RED)
    p.scatter([mx], [gy(rows_y[2])], size=13, marker="triangle", fill_color=BLUE, line_color=BLUE)
    p.scatter([mx], [gy(rows_y[3])], size=10, marker="square", angle=np.pi / 4,
              fill_color=GREEN, line_color=GREEN)
    tx_total, tx_c = spec["leg_txt"]
    put(p, gx(tx_total), gy(rows_y[0]), "Total", 16)
    for yy, sub in zip(rows_y[1:], ["y", "z", "x"]):
        put_sub(p, gx, gy, tx_c, yy, "C(p", sub, ")", 16)
    return p


def dos_panel(i, e_vb, vb, e_cb, cb):
    spec = ROWS[i]
    xmax = DOS_MAX[i]
    f_top, f_bot = frame_box(spec)
    x0 = YLAB_W + BAND_W
    p = base_figure(DOS_W, spec, DOS_L - x0, x0 + DOS_W - DOS_R, Range1d(0, xmax))
    gx, gy = mapper(DOS_L, DOS_R, f_top, f_bot, 0, xmax, -5, 5)

    xa = p.xaxis[0]
    xa.ticker = FixedTicker(ticks=DOS_TICKS[i], minor_ticks=DOS_MINOR[i])
    style_axis(xa, 8, 5, 20, 6)
    ya = p.yaxis[0]
    ya.ticker = FixedTicker(ticks=E_TICKS, minor_ticks=E_MINOR)
    style_axis(ya, 9, 5, 20, 0)
    ya.major_label_overrides = {t: "" for t in E_TICKS}

    p.add_layout(Span(location=0, dimension="width", line_color="black",
                      line_width=2.5, line_dash="8 4"))

    for e, (tot, py, pz, px) in ((e_vb, vb), (e_cb, cb)):
        assert len(e) == len(tot) == len(py) == len(pz) == len(px)
        p.line(tot, e, line_color="black", line_width=2)
        p.line(py, e, line_color=RED, line_width=1.5)
        p.line(px, e, line_color=GREEN, line_width=1.5, line_dash="6 2 2 2")
        p.line(pz, e, line_color=BLUE, line_width=1.5)

    # legend
    l, t, r, b = spec["dleg"]
    rows_y = spec["dleg_rows"]
    p.quad(left=gx(l), right=gx(r), top=gy(t), bottom=gy(b),
           fill_color="white", line_color="black", line_width=1)
    lx0, lx1 = spec["dleg_line"]
    styles = [("black", 2.5, "solid"), (RED, 1.8, "solid"), (BLUE, 1.8, "solid"),
              (GREEN, 1.8, "6 2 2 2")]
    for yy, (col, lw, dash) in zip(rows_y, styles):
        p.line([gx(lx0), gx(lx1)], [gy(yy)] * 2, line_color=col, line_width=lw, line_dash=dash)
    tx = spec["dleg_txt"]
    put(p, gx(tx), gy(rows_y[0]), "Total", 16)
    for yy, sub in zip(rows_y[1:], ["y", "z", "x"]):
        put_sub(p, gx, gy, tx, yy, "C(" + spec["dleg_p"], sub, ")", 16)
    return p


def label_strip(i, size=24):
    """Panel tag and the rotated 'E - E_f (eV)' axis label, left of the band plot."""
    spec = ROWS[i]
    top, bot = spec["main"]
    s = strip(YLAB_W, top, bot)
    put(s, 8, spec["tag_y"], PANEL_TAGS[i], 21)
    f_top, f_bot = frame_box(spec)
    cx, cy = 22, (f_top + f_bot) / 2 + 4
    ss = size * 0.7
    parts = [("E - E", size, 0.0, 0.0), ("f", ss, size * 0.26, 1.0),
             ("(eV)", size, 0.0, text_width(" ", size))]
    total = sum(text_width(t, sz) + g for t, sz, _, g in parts)
    y = cy + total / 2
    for t, sz, dx, g in parts:
        y -= g
        put(s, cx + dx, y, t, sz, angle=np.pi / 2)
        y -= text_width(t, sz)
    return s


def foot_strip(i):
    """x-axis titles of both plots, plus the dashed rule that separates panels."""
    spec = ROWS[i]
    s = strip(PAGE_W, *spec["foot"])
    put(s, (BAND_L + BAND_R) / 2, spec["xlab_y"], "High Symmetry Points", 23, align="center")
    put(s, (DOS_L + DOS_R) / 2, spec["xlab_y"], "Density of States", 23, align="center")
    if spec["sep"] is not None:
        s.add_layout(Span(location=spec["sep"], dimension="width", line_color="black",
                          line_width=1.5, line_dash="5 4"))
    return s


bands = [(BANDS_A, W_PY_A, W_PZ_A, W_PX_A),
         (BANDS_B, W_PY_B, W_PZ_B, W_PX_B),
         (BANDS_C, W_PY_C, W_PZ_C, W_PX_C)]
dos = [((TOT_VB_A, PY_VB_A, PZ_VB_A, PX_VB_A), E_CB_A, (TOT_CB_A, PY_CB_A, PZ_CB_A, PX_CB_A)),
       ((TOT_VB_B, PY_VB_B, PZ_VB_B, PX_VB_B), E_CB_B, (TOT_CB_B, PY_CB_B, PZ_CB_B, PX_CB_B)),
       ((TOT_VB_C, PY_VB_C, PZ_VB_C, PX_VB_C), E_CB_C, (TOT_CB_C, PY_CB_C, PZ_CB_C, PX_CB_C))]

blocks = []
for i in range(3):
    band_fig = band_panel(i, *bands[i])
    vb, e_cb, cb = dos[i]
    dos_fig = dos_panel(i, E_VB, vb, e_cb, cb)
    blocks.append(row(label_strip(i), band_fig, dos_fig))
    blocks.append(foot_strip(i))

page = column(*blocks)

open("out.html", "w").write(file_html(page, INLINE, title="Band structures and DOS"))
